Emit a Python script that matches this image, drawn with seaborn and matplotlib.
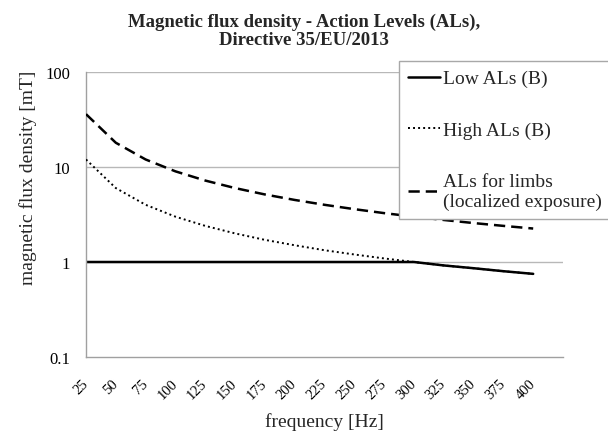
import matplotlib
matplotlib.use("Agg")
import matplotlib.pyplot as plt
import matplotlib.transforms as mtransforms
import seaborn as sns
import pandas as pd
from matplotlib.ticker import FixedLocator, NullLocator

freq = [25, 50, 75, 100, 125, 150, 175, 200, 225, 250, 275, 300, 325, 350, 375, 400]
low_als = [1, 1, 1, 1, 1, 1, 1, 1, 1, 1, 1, 1, 0.92, 0.86, 0.8, 0.75]
high_als = [12, 6, 4, 3, 2.4, 2.0, 1.71, 1.5, 1.33, 1.2, 1.09, 1.0, 0.92, 0.86, 0.8, 0.75]
limbs_als = [36, 18, 12, 9, 7.2, 6.0, 5.14, 4.5, 4.0, 3.6, 3.27, 3.0, 2.77, 2.57, 2.4, 2.25]
series_names = ["Low ALs (B)", "High ALs (B)", "ALs for limbs\n(localized exposure)"]
x_tick_values = [25, 50, 75, 100, 125, 150, 175, 200, 225, 250, 275, 300, 325, 350, 375, 400, 425]
x_tick_labels = ["25", "50", "75", "100", "125", "150", "175", "200", "225", "250", "275",
                 "300", "325", "350", "375", "400", ""]
y_tick_values = [0.1, 1, 10, 100]
y_tick_labels = ["0.1", "1", "10", "100"]

sns.set_style("white")
plt.rcParams["font.family"] = ["Liberation Serif", "DejaVu Serif"]

W, H = 608, 435
fig = plt.figure(figsize=(W / 100, H / 100), dpi=100)
L, R, T, B = 86, 563, 73, 358
ax = fig.add_axes([L / W, 1 - B / H, (R - L) / W, (B - T) / H])

df = pd.DataFrame({"f": freq, "low": low_als, "high": high_als, "limbs": limbs_als})

grid_c = "#b8b8b8"
for y in [1, 10, 100]:
    ax.axhline(y, color=grid_c, lw=1.0, zorder=0)

sns.lineplot(data=df, x="f", y="high", ax=ax, color="black", lw=1.4,
             linestyle=(0, (1, 1.6)), label=series_names[1], zorder=3)
sns.lineplot(data=df, x="f", y="low", ax=ax, color="black", lw=1.8,
             linestyle="-", label=series_names[0], zorder=2)
sns.lineplot(data=df, x="f", y="limbs", ax=ax, color="black", lw=1.8,
             linestyle=(0, (4.5, 2.4)), label=series_names[2], zorder=3)

ax.set_yscale("log")
ax.set_ylim(0.1, 100)
ax.set_xlim(25, 425)
ax.yaxis.set_major_locator(FixedLocator(y_tick_values))
ax.set_yticklabels(y_tick_labels)
ax.yaxis.set_minor_locator(NullLocator())
ax.set_xticks(x_tick_values)
ax.set_xticklabels(x_tick_labels, rotation=45, ha="right", va="center",
                   rotation_mode="anchor", fontsize=10.5)
offset = mtransforms.ScaledTranslation(3 / 72, 0, fig.dpi_scale_trans)
for lab in ax.get_xticklabels():
    lab.set_transform(lab.get_transform() + offset)

for s in ["top", "right"]:
    ax.spines[s].set_visible(False)
for s in ["left", "bottom"]:
    ax.spines[s].set_color("#a0a0a0")
    ax.spines[s].set_linewidth(1.0)
ax.tick_params(axis="both", which="major", direction="out", length=4.5, width=0.9,
               color="#a0a0a0", labelcolor="black")
ax.tick_params(axis="y", labelsize=12, pad=7)
ax.tick_params(axis="x", pad=13)

ax.set_xlabel("frequency [Hz]", fontsize=14, labelpad=8)
ax.set_ylabel("magnetic flux density [mT]", fontsize=14)
# vertical centre of the y title sits around y=178 px in the reference
ax.yaxis.set_label_coords(-0.102, (B - 178) / (B - T))

fig.suptitle("Magnetic flux density - Action Levels (ALs),\nDirective 35/EU/2013",
             fontsize=13.5, fontweight="bold", y=0.968, linespacing=1.05)

handles, labels = ax.get_legend_handles_labels()
order = [1, 0, 2]
leg = fig.legend([handles[i] for i in order], [labels[i] for i in order],
                 loc="upper left", bbox_to_anchor=(399 / W, 1 - 62 / H),
                 fontsize=14, frameon=True, fancybox=False, edgecolor="#a8a8a8",
                 framealpha=1, handlelength=1.65, handletextpad=0.15,
                 labelspacing=1.75, borderpad=0.45, borderaxespad=0)
leg.get_frame().set_linewidth(1.0)
for t in leg.get_texts():
    t.set_linespacing(1.2)
if ax.get_legend():
    ax.get_legend().remove()

fig.savefig("out.png", dpi=100)
